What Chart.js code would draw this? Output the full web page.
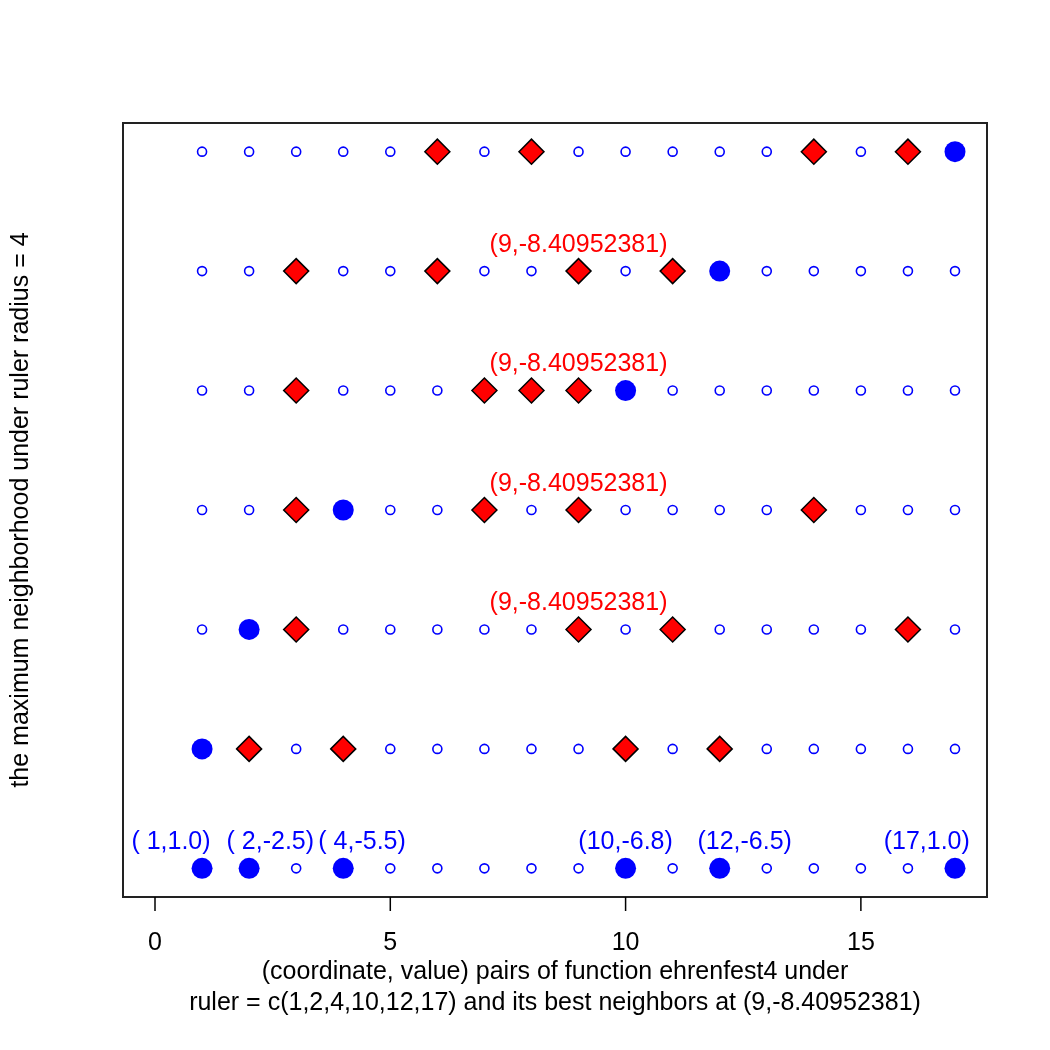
<!DOCTYPE html>
<html>
<head>
<meta charset="utf-8">
<script src="https://cdn.jsdelivr.net/npm/chart.js@4/dist/chart.umd.min.js"></script>
<style>
  html, body { margin: 0; padding: 0; background: #fff; }
  #wrap { width: 1050px; height: 1050px; }
</style>
</head>
<body>
<div id="wrap"><canvas id="myChart" width="1050" height="1050"></canvas></div>
<script>
// coordinates of the function and the rows (ruler radius levels)
const coords = [1, 2, 3, 4, 5, 6, 7, 8, 9, 10, 11, 12, 13, 14, 15, 16, 17];
const rows = [0, 1, 2, 3, 4, 5, 6];

// ruler points (row 0) and their values
const ruler = [1, 2, 4, 10, 12, 17];
const rulerLabels = ["( 1,1.0)", "( 2,-2.5)", "( 4,-5.5)", "(10,-6.8)", "(12,-6.5)", "(17,1.0)"];
const rulerLabelShift = [-0.66, 0.45, 0.4, 0, 0.53, -0.6];

// neighbours found in each row 1..6
const neighbors1 = [2, 4, 10, 12];
const neighbors2 = [3, 9, 11, 16];
const neighbors3 = [3, 7, 9, 14];
const neighbors4 = [3, 7, 8, 9];
const neighbors5 = [3, 6, 9, 11];
const neighbors6 = [6, 8, 14, 16];
const neighborRows = [neighbors1, neighbors2, neighbors3, neighbors4, neighbors5, neighbors6];

// the best neighbour label, shown on rows 2..5
const bestX = 9;
const bestLabel = "(9,-8.40952381)";
const bestLabelRows = [2, 3, 4, 5];

const xTicks = [0, 5, 10, 15];
const xTitle = ["(coordinate, value) pairs of function ehrenfest4 under",
                "ruler = c(1,2,4,10,12,17) and its best neighbors at (9,-8.40952381)"];
const yTitle = "the maximum neighborhood under ruler radius = 4";

const FONT = "Liberation Sans, Arial, Helvetica, sans-serif";

const smallPts = [];
rows.forEach(r => coords.forEach(c => smallPts.push({ x: c, y: r })));

const diamondPts = [];
neighborRows.forEach((list, i) => list.forEach(c => diamondPts.push({ x: c, y: i + 1 })));

const bigPts = ruler.map(c => ({ x: c, y: 0 }));
ruler.forEach((c, i) => bigPts.push({ x: c, y: i + 1 }));

const rPlotDecor = {
  id: "rPlotDecor",
  afterDraw(chart) {
    const ctx = chart.ctx;
    const a = chart.chartArea;
    const xs = chart.scales.x;
    const ys = chart.scales.y;
    ctx.save();

    // box
    ctx.strokeStyle = "#222";
    ctx.lineWidth = 2;
    ctx.strokeRect(a.left, a.top, a.right - a.left, a.bottom - a.top);

    // x axis ticks
    ctx.fillStyle = "#000";
    ctx.strokeStyle = "#000";
    ctx.lineWidth = 1.5;
    ctx.font = "25px " + FONT;
    ctx.textAlign = "center";
    ctx.textBaseline = "middle";
    xTicks.forEach(t => {
      const px = xs.getPixelForValue(t);
      ctx.beginPath();
      ctx.moveTo(px, a.bottom);
      ctx.lineTo(px, a.bottom + 14);
      ctx.stroke();
      ctx.fillText(String(t), px, 943);
    });

    // axis titles
    const midX = (a.left + a.right) / 2;
    ctx.fillText(xTitle[0], midX, 972);
    ctx.fillText(xTitle[1], midX, 1003);

    ctx.save();
    ctx.translate(21, (a.top + a.bottom) / 2);
    ctx.rotate(-Math.PI / 2);
    ctx.fillText(yTitle, 0, 0);
    ctx.restore();

    // ruler labels
    ctx.fillStyle = "#0000FF";
    ruler.forEach((c, i) => {
      const px = xs.getPixelForValue(c + rulerLabelShift[i]);
      const py = ys.getPixelForValue(0) - 26;
      ctx.fillText(rulerLabels[i], px, py);
    });

    // best neighbour labels
    ctx.fillStyle = "#FF0000";
    bestLabelRows.forEach(r => {
      ctx.fillText(bestLabel, xs.getPixelForValue(bestX), ys.getPixelForValue(r) - 26);
    });

    ctx.restore();
  }
};

new Chart(document.getElementById("myChart").getContext("2d"), {
  type: "scatter",
  data: {
    datasets: [
      {
        label: "ruler",
        data: bigPts,
        pointStyle: "circle",
        pointRadius: 10.5,
        pointBackgroundColor: "#0000FF",
        pointBorderWidth: 0,
        order: 1,
      },
      {
        label: "neighbors",
        data: diamondPts,
        pointStyle: "rectRot",
        pointRadius: 12.5,
        pointBackgroundColor: "#FF0000",
        pointBorderColor: "#000",
        pointBorderWidth: 1.5,
        order: 2,
      },
      {
        label: "coordinates",
        data: smallPts,
        pointStyle: "circle",
        pointRadius: 4.5,
        pointBackgroundColor: "rgba(0,0,0,0)",
        pointBorderColor: "#0000FF",
        pointBorderWidth: 1.6,
        order: 3,
      },
    ],
  },
  options: {
    responsive: false,
    animation: false,
    devicePixelRatio: 1,
    layout: { padding: { left: 123, right: 63, top: 123, bottom: 153 } },
    scales: {
      x: { type: "linear", min: -0.68, max: 17.68, display: false },
      y: { type: "linear", min: -0.24, max: 6.24, display: false },
    },
    plugins: {
      legend: { display: false },
      tooltip: { enabled: false },
    },
  },
  plugins: [rPlotDecor],
});
</script>
</body>
</html>
